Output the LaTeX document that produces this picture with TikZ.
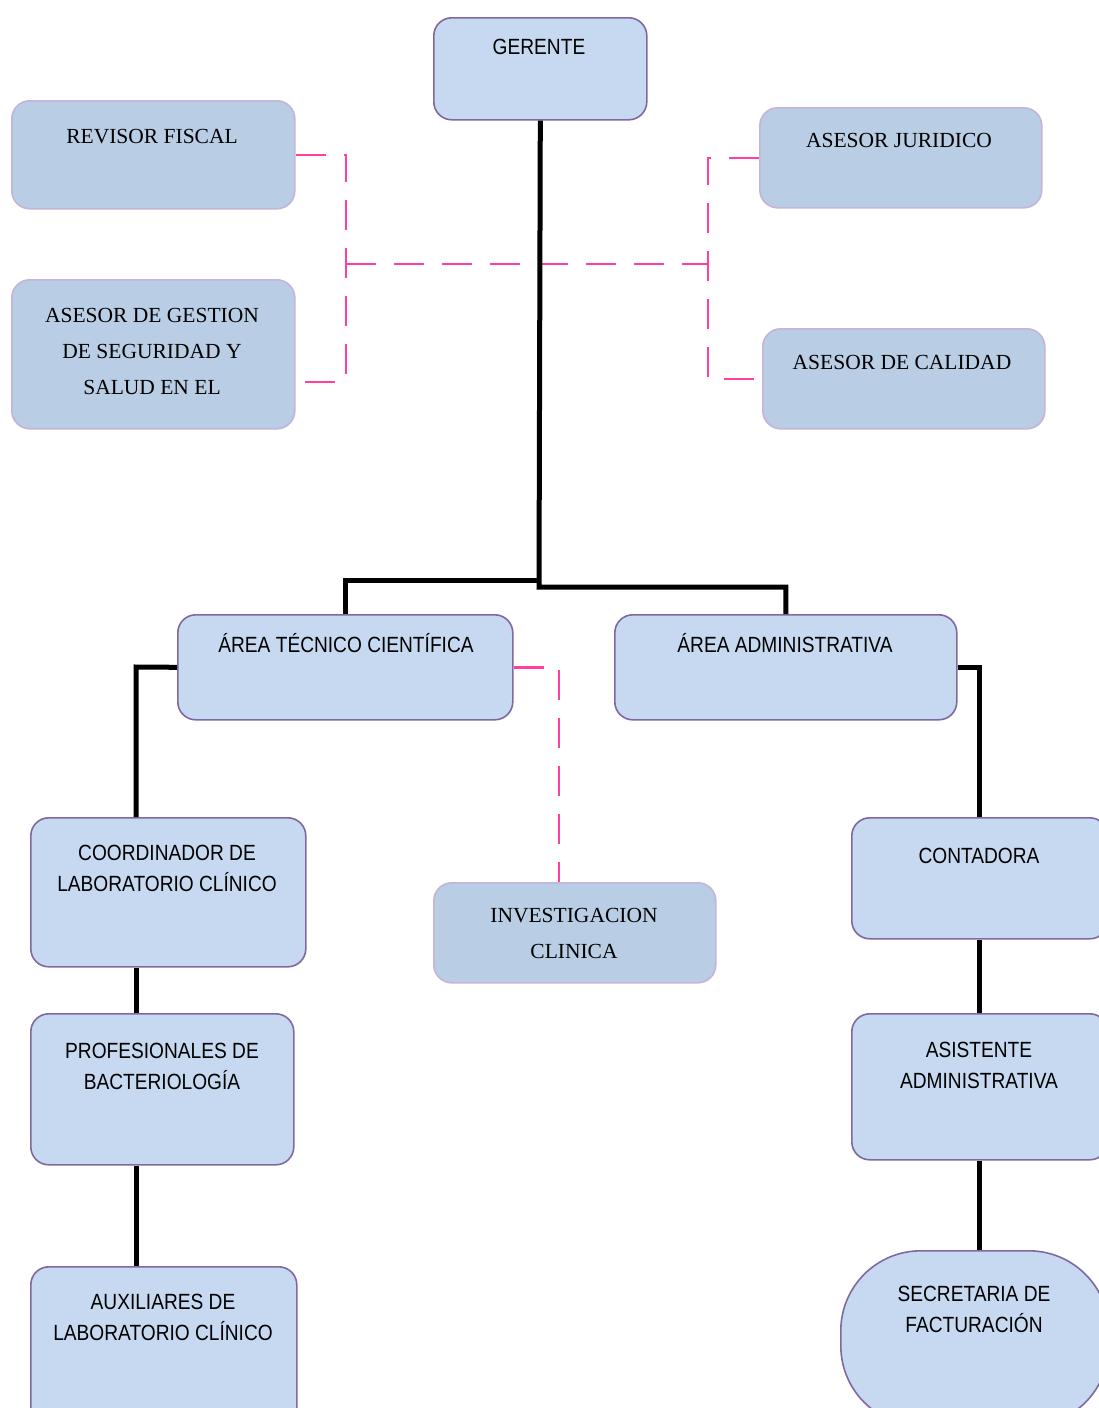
\documentclass[tikz,border=0pt]{standalone}
\usepackage{fontspec}
\usepackage{tikz}
\usetikzlibrary{positioning}

\newfontfamily\orgsans[FakeStretch=0.87]{Liberation Sans}
\newfontfamily\orgserif{Liberation Serif}

\definecolor{boxfill}{RGB}{198,217,241}
\definecolor{boxline}{RGB}{128,104,160}
\definecolor{advfill}{RGB}{185,205,229}
\definecolor{advline}{RGB}{196,180,216}
\definecolor{staffpink}{RGB}{255,64,160}

\tikzset{
  box/.style={draw=boxline, fill=boxfill, rounded corners=18pt, line width=1.6pt, anchor=north west, inner sep=0pt},
  advbox/.style={box, draw=advline, fill=advfill},
  lbl/.style={font={\orgsans\fontsize{22}{31}\selectfont}, align=center},
  advlbl/.style={font={\orgserif\fontsize{21.5}{36}\selectfont}, align=center},
  link/.style={line width=5pt, draw=black},
  staff/.style={line width=2.6pt, draw=staffpink, dash pattern=on 30pt off 18pt},
}

\begin{document}
\begin{tikzpicture}[x=1pt,y=-1pt]
   \useasboundingbox (0,0) rectangle (1099,1408);

   % boxes
   \node[box, minimum width=213pt, minimum height=102pt] (ger) at (433,17) {};
   \node[advbox, minimum width=283pt, minimum height=108pt] (rev) at (11,100) {};
   \node[advbox, minimum width=283pt, minimum height=149pt] (gest) at (11,279) {};
   \node[advbox, minimum width=282pt, minimum height=100pt] (jur) at (759,107) {};
   \node[advbox, minimum width=282pt, minimum height=100pt] (cal) at (762,328) {};
   \node[box, minimum width=335pt, minimum height=105pt] (tec) at (177,614) {};
   \node[box, minimum width=342pt, minimum height=105pt] (adm) at (614,614) {};
   \node[box, minimum width=275pt, minimum height=149pt] (coord) at (30,817) {};
   \node[advbox, minimum width=282pt, minimum height=100pt] (inv) at (433,882) {};
   \node[box, minimum width=256pt, minimum height=121pt] (cont) at (851,817) {};
   \node[box, minimum width=263pt, minimum height=151pt] (prof) at (30,1013) {};
   \node[box, minimum width=256pt, minimum height=146pt] (asis) at (851,1013) {};
   \node[box, minimum width=266pt, minimum height=160pt] (aux) at (30,1266) {};
   \node[box, rounded corners=80pt, minimum width=268pt, minimum height=175pt] (sec) at (840,1250) {};

   % texts
   \node[lbl] (ger-t) at (539,47) {GERENTE};
   \node[advlbl] (rev-t) at (152,137) {REVISOR FISCAL};
   \node[advlbl] (gest-t) at (152,351) {ASESOR DE GESTION\\DE SEGURIDAD Y\\SALUD EN EL};
   \node[advlbl] (jur-t) at (899,140) {ASESOR JURIDICO};
   \node[advlbl] (cal-t) at (902,362) {ASESOR DE CALIDAD};
   \node[lbl] (tec-t) at (346,643) {ÁREA TÉCNICO CIENTÍFICA};
   \node[lbl] (adm-t) at (785,643) {ÁREA ADMINISTRATIVA};
   \node[lbl] (coord-t) at (167,868) {COORDINADOR DE\\LABORATORIO CLÍNICO};
   \node[advlbl] (inv-t) at (574,933) {INVESTIGACION\\CLINICA};
   \node[lbl] (cont-t) at (979,856) {CONTADORA};
   \node[lbl] (prof-t) at (162,1066) {PROFESIONALES DE\\BACTERIOLOGÍA};
   \node[lbl] (asis-t) at (979,1065) {ASISTENTE\\ADMINISTRATIVA};
   \node[lbl] (aux-t) at (163,1317) {AUXILIARES DE\\LABORATORIO CLÍNICO};
   \node[lbl] (sec-t) at (974,1309) {SECRETARIA DE\\FACTURACIÓN};

   % staff lines
   \coordinate (dl) at (346,264);
   \coordinate (dr) at (708,264);
   \draw[staff] (rev.east) -| (dl) |- ([yshift=-27.5pt]gest.east);
   \draw[staff] (dl) -- (dr);
   \draw[staff] (jur.west) -| (dr) |- (cal.west);
   \draw[staff] (tec.east) -| ([xshift=-16pt]inv.north);

   % line of command
   \coordinate (jl) at (539,580);
   \coordinate (jr) at (539,587);
   \coordinate (lsp) at (136,667);
   \draw[link] (ger.south) -- (jr) -| (adm.north);
   \draw[link] (jl) -| (tec.north);
   \draw[link] (tec.west) -- (lsp) -- (lsp |- coord.north);
   \draw[link] (lsp |- coord.south) -- (lsp |- prof.north);
   \draw[link] (lsp |- prof.south) -- (lsp |- aux.north);
   \draw[link] (adm.east) -| (cont.north);
   \draw[link] (cont.south) -- (asis.north);
   \draw[link] (asis.south) -- (asis.south |- sec.north);
\end{tikzpicture}
\end{document}
